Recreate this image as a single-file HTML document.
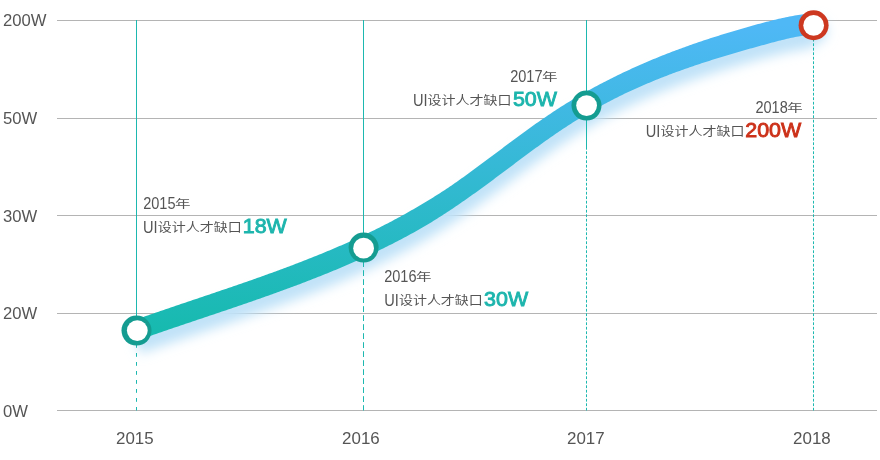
<!DOCTYPE html>
<html><head><meta charset="utf-8"><style>
html,body{margin:0;padding:0;background:#fff;}
svg{display:block;will-change:transform;}
text{font-family:"Liberation Sans", "Noto Sans CJK SC", sans-serif;}
</style></head><body>
<svg width="880" height="460" viewBox="0 0 880 460">
<defs>
<linearGradient id="lg" gradientUnits="userSpaceOnUse" x1="0" y1="330" x2="0" y2="25">
<stop offset="0" stop-color="#17baaf"/><stop offset="1" stop-color="#4fb8f6"/>
</linearGradient>
<filter id="sh" x="-10%" y="-30%" width="120%" height="160%">
<feGaussianBlur stdDeviation="6"/>
</filter>
</defs>
<rect width="880" height="460" fill="#fff"/>
<g stroke="#b4b4b4" stroke-width="1">
<line x1="57" y1="20.5" x2="877" y2="20.5"/><line x1="57" y1="118.5" x2="877" y2="118.5"/><line x1="57" y1="215.5" x2="877" y2="215.5"/><line x1="57" y1="313.5" x2="877" y2="313.5"/><line x1="57" y1="410.5" x2="877" y2="410.5"/>
</g>
<g fill="#555" font-size="16">
<text transform="translate(3,26.0) scale(1.04,1)">200W</text><text transform="translate(3,124.0) scale(1.04,1)">50W</text><text transform="translate(3,221.8) scale(1.04,1)">30W</text><text transform="translate(3,319.0) scale(1.04,1)">20W</text><text transform="translate(3,416.8) scale(1.04,1)">0W</text>
</g>
<g fill="#555" font-size="16" text-anchor="middle">
<text transform="translate(134.8,444) scale(1.06,1)">2015</text><text transform="translate(360.9,444) scale(1.06,1)">2016</text><text transform="translate(585.8,444) scale(1.06,1)">2017</text><text transform="translate(811.9,444) scale(1.06,1)">2018</text>
</g>

<g transform="translate(0,13)" filter="url(#sh)" opacity="1"><path d="M136.50,330.07 C201.00,307.18 265.50,287.92 330.00,261.18 C370.00,244.59 410.00,225.12 450.00,198.37 C486.67,173.84 523.33,143.20 560.00,119.11 C600.00,92.84 640.00,74.38 680.00,59.79 C706.67,50.06 733.33,42.06 760.00,34.75 C777.83,29.85 795.67,25.27 813.50,23.81" fill="none" stroke="#c0e2f8" stroke-width="22" stroke-linecap="butt" stroke-linejoin="round"/><circle cx="815" cy="17.81" r="12" fill="#c0e2f8"/></g>
<g stroke="#1db8b0" stroke-width="1" fill="none">
<line x1="136.5" y1="20" x2="136.5" y2="318"/>
<line x1="136.5" y1="344" x2="136.5" y2="410.5" stroke-dasharray="3.8 5.2"/>
<line x1="363.5" y1="20" x2="363.5" y2="235"/>
<line x1="363.5" y1="252.2" x2="363.5" y2="410.5" stroke-dasharray="5.8 3.2"/>
<line x1="586.5" y1="20" x2="586.5" y2="149.7"/>
<line x1="586.5" y1="151.3" x2="586.5" y2="410.5" stroke-dasharray="2.8 1.7"/>
<line x1="813.5" y1="38.8" x2="813.5" y2="410.5" stroke-dasharray="2.8 1.7"/>
</g>
<path d="M133.12,320.56 L134.83,319.95 L136.53,319.35 L138.23,318.75 L139.94,318.15 L141.64,317.55 L143.35,316.95 L145.05,316.36 L146.75,315.76 L148.46,315.17 L150.16,314.58 L151.86,313.99 L153.56,313.40 L155.27,312.81 L156.97,312.23 L158.67,311.64 L160.37,311.06 L162.07,310.47 L163.77,309.89 L165.47,309.31 L167.18,308.73 L168.88,308.15 L170.58,307.57 L172.28,307.00 L173.98,306.42 L175.68,305.84 L177.37,305.27 L179.07,304.69 L180.77,304.12 L182.47,303.54 L184.17,302.97 L185.87,302.40 L187.57,301.82 L189.26,301.25 L190.96,300.68 L192.66,300.11 L194.35,299.53 L196.05,298.96 L197.75,298.39 L199.44,297.82 L201.14,297.25 L202.84,296.68 L204.53,296.11 L206.23,295.53 L207.92,294.96 L209.62,294.39 L211.31,293.82 L213.01,293.24 L214.70,292.67 L216.39,292.10 L218.09,291.52 L219.78,290.95 L221.47,290.37 L223.17,289.80 L224.86,289.22 L226.55,288.65 L228.25,288.07 L229.94,287.49 L231.63,286.91 L233.32,286.33 L235.01,285.75 L236.70,285.17 L238.40,284.59 L240.09,284.00 L241.78,283.42 L243.47,282.83 L245.16,282.24 L246.85,281.65 L248.54,281.07 L250.23,280.47 L251.92,279.88 L253.60,279.29 L255.29,278.69 L256.98,278.10 L258.67,277.50 L260.36,276.90 L262.05,276.30 L263.73,275.69 L265.42,275.09 L267.11,274.48 L268.80,273.87 L270.48,273.26 L272.17,272.65 L273.86,272.04 L275.54,271.42 L277.23,270.81 L278.91,270.19 L280.60,269.56 L282.29,268.94 L283.97,268.31 L285.66,267.68 L287.34,267.05 L289.02,266.42 L290.71,265.78 L292.39,265.15 L294.08,264.51 L295.76,263.86 L297.44,263.22 L299.13,262.57 L300.81,261.92 L302.49,261.27 L304.18,260.61 L305.86,259.95 L307.54,259.29 L309.22,258.62 L310.91,257.96 L312.59,257.29 L314.27,256.61 L315.95,255.94 L317.63,255.26 L319.31,254.57 L320.99,253.89 L322.67,253.20 L324.35,252.51 L326.03,251.81 L327.71,251.11 L329.39,250.41 L331.07,249.71 L332.75,249.00 L334.43,248.28 L336.11,247.57 L337.79,246.85 L339.47,246.12 L341.14,245.40 L342.82,244.66 L344.50,243.93 L346.17,243.19 L347.85,242.44 L349.53,241.70 L351.20,240.94 L352.88,240.19 L354.55,239.42 L356.23,238.66 L357.90,237.89 L359.58,237.11 L361.25,236.33 L362.93,235.55 L364.60,234.76 L366.27,233.96 L367.95,233.16 L369.62,232.36 L371.29,231.55 L372.96,230.73 L374.64,229.91 L376.31,229.08 L377.98,228.25 L379.65,227.42 L381.32,226.57 L382.99,225.72 L384.67,224.87 L386.34,224.01 L388.01,223.14 L389.68,222.27 L391.35,221.39 L393.02,220.51 L394.69,219.62 L396.36,218.72 L398.03,217.82 L399.69,216.91 L401.36,215.99 L403.03,215.07 L404.70,214.14 L406.37,213.20 L408.04,212.26 L409.71,211.31 L411.37,210.35 L413.04,209.38 L414.71,208.41 L416.39,207.45 L418.06,206.48 L419.74,205.50 L421.42,204.51 L423.09,203.52 L424.77,202.52 L426.45,201.51 L428.12,200.49 L429.80,199.47 L431.47,198.44 L433.15,197.40 L434.83,196.35 L436.50,195.29 L438.18,194.22 L439.86,193.15 L441.53,192.07 L443.21,190.98 L444.89,189.88 L446.57,188.77 L448.25,187.66 L449.92,186.53 L451.60,185.38 L453.27,184.22 L454.94,183.06 L456.62,181.89 L458.29,180.71 L459.97,179.52 L461.65,178.33 L463.33,177.13 L465.01,175.92 L466.69,174.71 L468.37,173.49 L470.05,172.27 L471.74,171.04 L473.42,169.81 L475.11,168.58 L476.79,167.33 L478.48,166.09 L480.17,164.84 L481.86,163.59 L483.55,162.33 L485.24,161.07 L486.93,159.81 L488.62,158.55 L490.32,157.28 L492.01,156.02 L493.71,154.75 L495.40,153.48 L497.10,152.21 L498.80,150.94 L500.49,149.66 L502.19,148.39 L503.89,147.12 L505.59,145.85 L507.29,144.58 L509.00,143.31 L510.70,142.04 L512.40,140.77 L514.11,139.51 L515.82,138.25 L517.52,136.99 L519.23,135.73 L520.94,134.48 L522.65,133.22 L524.36,131.98 L526.07,130.73 L527.78,129.49 L529.49,128.26 L531.21,127.03 L532.92,125.80 L534.64,124.58 L536.36,123.37 L538.07,122.16 L539.79,120.96 L541.51,119.76 L543.23,118.57 L544.95,117.39 L546.68,116.21 L548.40,115.04 L550.13,113.88 L551.85,112.73 L553.58,111.59 L555.31,110.45 L557.04,109.32 L558.77,108.21 L560.49,107.10 L562.22,106.00 L563.95,104.91 L565.68,103.83 L567.41,102.76 L569.14,101.70 L570.87,100.65 L572.59,99.60 L574.32,98.57 L576.05,97.54 L577.78,96.53 L579.51,95.52 L581.24,94.52 L582.97,93.53 L584.69,92.54 L586.42,91.57 L588.15,90.60 L589.88,89.65 L591.61,88.70 L593.33,87.75 L595.06,86.82 L596.79,85.89 L598.52,84.98 L600.25,84.07 L601.97,83.17 L603.70,82.27 L605.43,81.38 L607.15,80.51 L608.88,79.63 L610.61,78.77 L612.33,77.91 L614.06,77.06 L615.79,76.22 L617.51,75.37 L619.23,74.53 L620.95,73.70 L622.67,72.87 L624.39,72.05 L626.10,71.23 L627.82,70.43 L629.54,69.63 L631.26,68.83 L632.98,68.05 L634.70,67.26 L636.42,66.49 L638.14,65.72 L639.86,64.96 L641.57,64.20 L643.29,63.45 L645.01,62.71 L646.73,61.97 L648.45,61.24 L650.17,60.52 L651.88,59.80 L653.60,59.08 L655.32,58.38 L657.04,57.67 L658.75,56.98 L660.47,56.28 L662.19,55.60 L663.90,54.92 L665.62,54.24 L667.34,53.57 L669.05,52.91 L670.77,52.25 L672.48,51.59 L674.20,50.94 L675.91,50.30 L677.63,49.65 L679.34,49.02 L681.06,48.39 L682.77,47.76 L684.49,47.14 L686.20,46.52 L687.92,45.91 L689.63,45.30 L691.34,44.70 L693.06,44.10 L694.77,43.50 L696.48,42.91 L698.20,42.33 L699.91,41.75 L701.63,41.17 L703.34,40.60 L705.05,40.04 L706.77,39.48 L708.48,38.92 L710.19,38.36 L711.91,37.81 L713.62,37.27 L715.33,36.72 L717.04,36.18 L718.76,35.64 L720.47,35.11 L722.18,34.58 L723.89,34.05 L725.60,33.53 L727.31,33.00 L729.02,32.49 L730.73,31.97 L732.44,31.46 L734.15,30.95 L735.86,30.44 L737.57,29.94 L739.28,29.44 L740.98,28.94 L742.69,28.44 L744.40,27.95 L746.11,27.46 L747.81,26.97 L749.52,26.48 L751.23,25.99 L752.93,25.51 L754.64,25.03 L756.34,24.55 L758.05,24.09 L759.77,23.63 L761.48,23.17 L763.20,22.72 L764.92,22.27 L766.65,21.82 L768.38,21.38 L770.11,20.94 L771.84,20.51 L773.58,20.08 L775.32,19.66 L777.07,19.25 L778.81,18.84 L780.56,18.44 L782.32,18.05 L784.07,17.67 L785.83,17.30 L787.60,16.94 L789.36,16.59 L791.13,16.26 L792.91,15.93 L794.68,15.62 L796.46,15.32 L798.25,15.04 L800.04,14.77 L801.83,14.51 L803.62,14.28 L805.42,14.05 L807.22,13.85 L809.02,13.66 L810.83,13.49 L812.64,13.34 L814.36,34.27 L812.78,34.42 L811.19,34.59 L809.60,34.77 L808.01,34.97 L806.41,35.18 L804.81,35.42 L803.21,35.66 L801.60,35.92 L799.99,36.20 L798.38,36.49 L796.76,36.79 L795.14,37.10 L793.52,37.43 L791.89,37.77 L790.26,38.12 L788.63,38.49 L786.99,38.86 L785.35,39.24 L783.71,39.63 L782.06,40.04 L780.42,40.45 L778.76,40.86 L777.11,41.29 L775.45,41.72 L773.79,42.16 L772.12,42.61 L770.45,43.06 L768.78,43.52 L767.11,43.98 L765.43,44.44 L763.75,44.91 L762.06,45.37 L760.38,45.83 L758.69,46.29 L757.00,46.75 L755.31,47.21 L753.63,47.67 L751.94,48.14 L750.25,48.61 L748.57,49.08 L746.88,49.55 L745.20,50.02 L743.51,50.50 L741.83,50.98 L740.14,51.46 L738.46,51.95 L736.78,52.43 L735.09,52.92 L733.41,53.42 L731.73,53.91 L730.04,54.41 L728.36,54.91 L726.68,55.42 L725.00,55.92 L723.31,56.43 L721.63,56.95 L719.95,57.46 L718.27,57.98 L716.59,58.51 L714.91,59.03 L713.23,59.56 L711.55,60.10 L709.87,60.63 L708.19,61.17 L706.51,61.72 L704.83,62.27 L703.15,62.82 L701.47,63.37 L699.79,63.92 L698.11,64.48 L696.43,65.04 L694.75,65.60 L693.07,66.17 L691.40,66.75 L689.72,67.33 L688.04,67.91 L686.36,68.49 L684.68,69.09 L683.00,69.68 L681.32,70.28 L679.64,70.89 L677.97,71.49 L676.29,72.11 L674.61,72.73 L672.93,73.35 L671.26,73.98 L669.58,74.61 L667.90,75.25 L666.23,75.90 L664.55,76.55 L662.87,77.20 L661.20,77.86 L659.52,78.52 L657.85,79.19 L656.17,79.87 L654.50,80.55 L652.82,81.24 L651.15,81.93 L649.47,82.63 L647.80,83.34 L646.12,84.05 L644.45,84.76 L642.77,85.48 L641.10,86.21 L639.42,86.95 L637.75,87.69 L636.07,88.44 L634.40,89.19 L632.73,89.95 L631.05,90.72 L629.38,91.49 L627.70,92.27 L626.03,93.06 L624.36,93.85 L622.69,94.66 L621.02,95.49 L619.35,96.31 L617.69,97.15 L616.02,97.99 L614.35,98.84 L612.69,99.70 L611.02,100.56 L609.36,101.43 L607.69,102.31 L606.02,103.20 L604.36,104.09 L602.69,104.99 L601.03,105.90 L599.36,106.82 L597.70,107.74 L596.03,108.67 L594.37,109.61 L592.70,110.56 L591.04,111.52 L589.37,112.48 L587.71,113.45 L586.04,114.44 L584.38,115.42 L582.71,116.42 L581.05,117.43 L579.38,118.44 L577.72,119.47 L576.05,120.50 L574.39,121.54 L572.72,122.59 L571.06,123.65 L569.39,124.72 L567.73,125.79 L566.06,126.88 L564.40,127.97 L562.73,129.08 L561.06,130.19 L559.40,131.32 L557.73,132.45 L556.06,133.59 L554.38,134.74 L552.71,135.90 L551.04,137.06 L549.36,138.24 L547.69,139.42 L546.01,140.61 L544.33,141.80 L542.65,143.00 L540.97,144.21 L539.29,145.42 L537.61,146.64 L535.93,147.86 L534.25,149.09 L532.56,150.33 L530.88,151.56 L529.19,152.81 L527.51,154.05 L525.82,155.30 L524.13,156.56 L522.44,157.81 L520.75,159.07 L519.06,160.34 L517.37,161.60 L515.67,162.87 L513.98,164.14 L512.29,165.41 L510.59,166.68 L508.89,167.95 L507.20,169.22 L505.50,170.49 L503.80,171.77 L502.10,173.04 L500.40,174.31 L498.70,175.58 L497.00,176.85 L495.30,178.12 L493.59,179.39 L491.89,180.65 L490.18,181.91 L488.48,183.18 L486.77,184.43 L485.06,185.69 L483.35,186.94 L481.64,188.19 L479.93,189.43 L478.22,190.67 L476.51,191.91 L474.79,193.14 L473.08,194.36 L471.37,195.58 L469.65,196.80 L467.93,198.01 L466.21,199.21 L464.49,200.41 L462.77,201.60 L461.05,202.78 L459.34,203.97 L457.62,205.15 L455.91,206.32 L454.19,207.49 L452.47,208.65 L450.76,209.80 L449.04,210.94 L447.32,212.07 L445.61,213.19 L443.89,214.30 L442.17,215.41 L440.45,216.51 L438.74,217.60 L437.02,218.68 L435.30,219.75 L433.59,220.82 L431.87,221.88 L430.15,222.93 L428.44,223.97 L426.72,225.00 L425.00,226.03 L423.28,227.03 L421.55,228.03 L419.82,229.02 L418.10,230.00 L416.37,230.97 L414.65,231.94 L412.92,232.90 L411.20,233.85 L409.48,234.80 L407.75,235.73 L406.03,236.67 L404.30,237.59 L402.58,238.51 L400.86,239.42 L399.13,240.33 L397.41,241.23 L395.69,242.12 L393.96,243.00 L392.24,243.88 L390.52,244.76 L388.80,245.62 L387.07,246.48 L385.35,247.34 L383.63,248.19 L381.91,249.03 L380.19,249.87 L378.47,250.70 L376.75,251.53 L375.03,252.35 L373.31,253.17 L371.59,253.98 L369.87,254.78 L368.15,255.58 L366.43,256.38 L364.71,257.16 L362.99,257.95 L361.27,258.73 L359.56,259.50 L357.84,260.27 L356.12,261.04 L354.40,261.80 L352.69,262.56 L350.97,263.31 L349.25,264.06 L347.54,264.80 L345.82,265.54 L344.11,266.27 L342.39,267.00 L340.68,267.73 L338.96,268.45 L337.25,269.17 L335.54,269.89 L333.82,270.60 L332.11,271.31 L330.40,272.01 L328.68,272.71 L326.97,273.41 L325.26,274.10 L323.55,274.79 L321.83,275.48 L320.12,276.17 L318.41,276.85 L316.70,277.52 L314.99,278.20 L313.28,278.87 L311.57,279.54 L309.85,280.21 L308.14,280.87 L306.43,281.53 L304.72,282.19 L303.01,282.84 L301.30,283.49 L299.59,284.14 L297.89,284.79 L296.18,285.43 L294.47,286.07 L292.76,286.71 L291.05,287.35 L289.34,287.98 L287.63,288.61 L285.93,289.24 L284.22,289.87 L282.51,290.49 L280.80,291.11 L279.10,291.73 L277.39,292.35 L275.68,292.97 L273.98,293.58 L272.27,294.19 L270.56,294.80 L268.86,295.41 L267.15,296.02 L265.45,296.62 L263.74,297.22 L262.04,297.83 L260.33,298.42 L258.63,299.02 L256.92,299.62 L255.22,300.21 L253.52,300.81 L251.81,301.40 L250.11,301.99 L248.41,302.58 L246.70,303.17 L245.00,303.75 L243.30,304.34 L241.60,304.92 L239.89,305.51 L238.19,306.09 L236.49,306.67 L234.79,307.25 L233.09,307.83 L231.39,308.41 L229.69,308.99 L227.99,309.56 L226.29,310.14 L224.59,310.71 L222.89,311.29 L221.19,311.86 L219.49,312.44 L217.79,313.01 L216.09,313.58 L214.39,314.15 L212.69,314.73 L211.00,315.30 L209.30,315.87 L207.60,316.44 L205.90,317.01 L204.20,317.58 L202.51,318.15 L200.81,318.72 L199.11,319.29 L197.42,319.86 L195.72,320.43 L194.03,321.00 L192.33,321.57 L190.64,322.14 L188.94,322.72 L187.25,323.29 L185.55,323.86 L183.86,324.43 L182.16,325.00 L180.47,325.58 L178.77,326.15 L177.08,326.72 L175.39,327.30 L173.69,327.87 L172.00,328.45 L170.31,329.03 L168.62,329.61 L166.92,330.18 L165.23,330.76 L163.54,331.34 L161.85,331.93 L160.16,332.51 L158.47,333.09 L156.78,333.68 L155.08,334.26 L153.39,334.85 L151.70,335.44 L150.01,336.03 L148.32,336.62 L146.63,337.21 L144.95,337.80 L143.26,338.40 L141.57,338.99 L139.88,339.59 Z" fill="url(#lg)"/>
<g>
<circle cx="136.5" cy="330.6" r="15.0" fill="#149c91"/><circle cx="137.3" cy="330.6" r="10.4" fill="#fff"/><circle cx="363.6" cy="247.6" r="15.0" fill="#149c91"/><circle cx="363.6" cy="248.2" r="10.4" fill="#fff"/><circle cx="586.5" cy="105.6" r="15.0" fill="#149c91"/><circle cx="586.6" cy="105.6" r="10.4" fill="#fff"/><circle cx="813.6" cy="25.25" r="15.0" fill="#cd3820"/><circle cx="813.65" cy="25.45" r="10.4" fill="#fff"/>
</g>
<g>
<text transform="translate(143.15,208.5) scale(0.915,1)" font-size="15.9" fill="#555">2015</text>
<text transform="translate(175.0,208.2) scale(1.07,0.795)" font-size="14.5" fill="#555">年</text>
<text transform="translate(143.0,233.0) scale(0.88,1)" font-size="16.6" fill="#555">UI</text>
<text transform="translate(157.7,232.25) scale(1,0.855)" font-size="14" fill="#555">设计人才缺口</text>
<text transform="translate(242.8,233.2) scale(1.035,1)" font-size="20.7" fill="#1db5ad" stroke="#1db5ad" stroke-width="0.9">18W</text>
<text transform="translate(384.2,281.6) scale(0.915,1)" font-size="15.9" fill="#555">2016</text>
<text transform="translate(416.05,281.3) scale(1.07,0.795)" font-size="14.5" fill="#555">年</text>
<text transform="translate(384.2,306.1) scale(0.88,1)" font-size="16.6" fill="#555">UI</text>
<text transform="translate(398.9,305.35) scale(1,0.855)" font-size="14" fill="#555">设计人才缺口</text>
<text transform="translate(484.07,306.0) scale(1.035,1)" font-size="20.7" fill="#1db5ad" stroke="#1db5ad" stroke-width="0.9">30W</text>
<text transform="translate(510.2,81.7) scale(0.915,1)" font-size="15.9" fill="#555">2017</text>
<text transform="translate(542.05,81.4) scale(1.07,0.795)" font-size="14.5" fill="#555">年</text>
<text transform="translate(412.9,106.2) scale(0.88,1)" font-size="16.6" fill="#555">UI</text>
<text transform="translate(427.6,105.45) scale(1,0.855)" font-size="14" fill="#555">设计人才缺口</text>
<text transform="translate(512.95,106.0) scale(1.035,1)" font-size="20.7" fill="#1db5ad" stroke="#1db5ad" stroke-width="0.9">50W</text>
<text transform="translate(755.4,112.5) scale(0.915,1)" font-size="15.9" fill="#555">2018</text>
<text transform="translate(787.25,112.2) scale(1.07,0.795)" font-size="14.5" fill="#555">年</text>
<text transform="translate(645.8,137.1) scale(0.88,1)" font-size="16.6" fill="#555">UI</text>
<text transform="translate(660.5,136.35) scale(1,0.855)" font-size="14" fill="#555">设计人才缺口</text>
<text transform="translate(745.3000000000001,137.3) scale(1.035,1)" font-size="20.7" fill="#cc3119" stroke="#cc3119" stroke-width="0.9">200W</text>
</g>
</svg>
</body></html>
